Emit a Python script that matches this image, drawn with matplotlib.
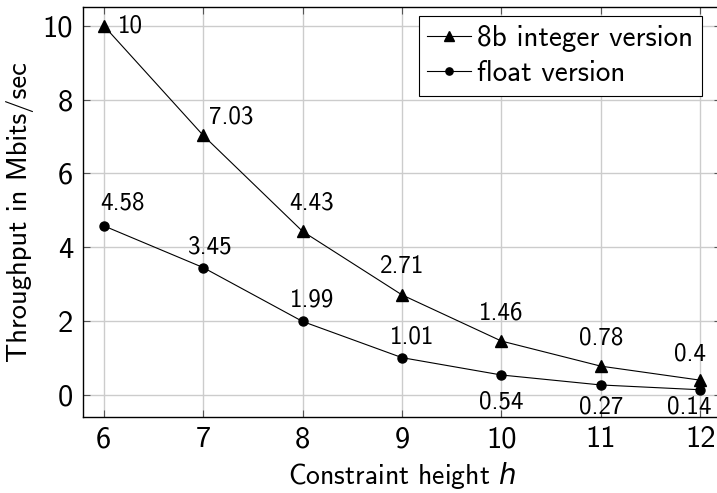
"""
Throughput vs constraint height: 8b integer version vs float version.
"""

import matplotlib
matplotlib.use("Agg")
import matplotlib.pyplot as plt

# ---------------------------------------------------------------
# Data
# ---------------------------------------------------------------

heights = [6, 7, 8, 9, 10, 11, 12]
int_throughput = [10, 7.03, 4.43, 2.71, 1.46, 0.78, 0.4]
float_throughput = [4.58, 3.45, 1.99, 1.01, 0.54, 0.27, 0.14]

int_labels = ["10", "7.03", "4.43", "2.71", "1.46", "0.78", "0.4"]
float_labels = ["4.58", "3.45", "1.99", "1.01", "0.54", "0.27", "0.14"]

# label offsets in pixels (dx, dy)
int_offsets = [(27, 0), (28, 18), (9, 28), (0, 28), (0, 28), (0, 28), (-10, 26)]
float_offsets = [(19, 23), (7, 21), (9, 21), (10, 21), (0, -27), (0, -22), (-11, -17)]

# ---------------------------------------------------------------
# Style
# ---------------------------------------------------------------

plt.rcParams["font.family"] = ["cmss10", "DejaVu Sans"]
plt.rcParams["mathtext.fontset"] = "dejavusans"
plt.rcParams["axes.unicode_minus"] = False

fig = plt.figure(figsize=(7.17, 4.93), dpi=100)
ax = fig.add_axes([83 / 717, 1 - 416.7 / 493, 638 / 717, 409.7 / 493])

ax.plot(heights, int_throughput, color="black", linewidth=0.8,
        marker="^", markersize=8.5, label="8b integer version")
ax.plot(heights, float_throughput, color="black", linewidth=0.8,
        marker="o", markersize=6.5, label="float version")

for x, y, lab, (dx, dy) in zip(heights, int_throughput, int_labels, int_offsets):
    ax.annotate(lab, (x, y), xytext=(dx, dy), textcoords="offset pixels",
                ha="center", va="center", fontsize=18)
for x, y, lab, (dx, dy) in zip(heights, float_throughput, float_labels, float_offsets):
    ax.annotate(lab, (x, y), xytext=(dx, dy), textcoords="offset pixels",
                ha="center", va="center", fontsize=18)

ax.set_xlim(5.79, 12.21)
ax.set_ylim(-0.59, 10.51)
ax.set_xticks(heights)
ax.set_yticks([0, 2, 4, 6, 8, 10])
ax.tick_params(direction="in", length=5, width=0.8, color="#555555",
               top=True, right=True, labelsize=22, pad=7)
ax.grid(True, color="#cccccc", linewidth=1)
ax.set_axisbelow(True)
for s in ax.spines.values():
    s.set_linewidth(1)

ax.set_xlabel("Constraint height $h$", fontsize=20, labelpad=5)
ax.set_ylabel("Throughput in Mbits/sec", fontsize=20.5, labelpad=6)

leg = ax.legend(loc="upper right", bbox_to_anchor=(0.97, 1 - 9 / 409.7),
                fontsize=21, handlelength=1.5, handletextpad=0.2,
                borderpad=0.3, labelspacing=0.3, fancybox=False,
                framealpha=1, edgecolor="black", borderaxespad=0,
                markerscale=0.8)
leg.get_frame().set_linewidth(0.8)

fig.savefig("out.png", dpi=100)
